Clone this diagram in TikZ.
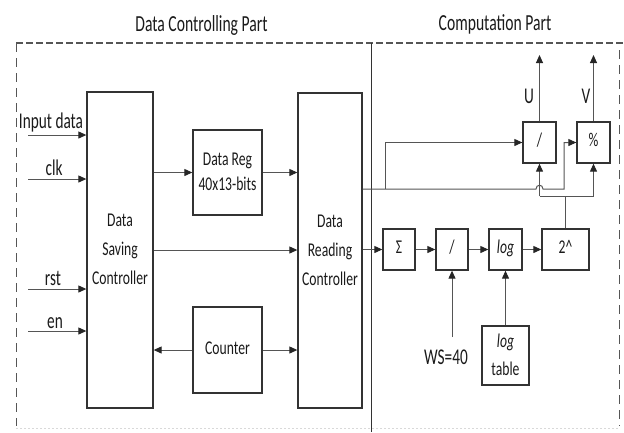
\documentclass[tikz,border=0pt]{standalone}
\usepackage{graphicx}
\usepackage{fontspec}
\setmainfont{Carlito}
\usetikzlibrary{arrows.meta,calc}
\definecolor{boxc}{HTML}{333333}
\definecolor{linec}{HTML}{555555}
\definecolor{txtc}{HTML}{1A1A1A}
\definecolor{framec}{HTML}{555555}
\newcommand{\bt}[2]{\scalebox{0.7}[1]{\fontsize{19.5}{20}\selectfont\def\arraystretch{#1}\begin{tabular}{@{}c@{}}#2\end{tabular}}}
\newcommand{\lt}[1]{\scalebox{0.68}[1]{\fontsize{22.5}{24}\selectfont #1}}
\newcommand{\ttl}[1]{\scalebox{0.68}[1]{\fontsize{23}{25}\selectfont #1}}
\tikzset{
  box/.style={draw=boxc, line width=1.3pt, inner sep=0pt, text=txtc},
  lbl/.style={inner sep=0pt, anchor=base, text=txtc},
  wire/.style={draw=linec, line width=1pt},
  conn/.style={wire, -{Triangle[length=8pt,width=7pt,color=black!85,fill=black!85]}},
}
\begin{document}
\begin{tikzpicture}[x=1pt,y=-1pt]
\useasboundingbox (0,0) rectangle (624,432);
% frame
\draw[framec, line width=1.6pt, dash pattern=on 6.5pt off 3.5pt] (16,43) -- (624,43);
\draw[framec, line width=1pt, dash pattern=on 9pt off 6pt] (16,43) -- (16,426);
\draw[framec, line width=1pt, dash pattern=on 9pt off 6pt] (619,50) -- (619,426);
\draw[gray!30, line width=0.8pt, dash pattern=on 2pt off 2pt] (16,428) -- (619,428);
\draw[boxc, line width=1pt] (371,43) -- (371,432);
% titles
\node[lbl] (t1) at (201.5,31) {\ttl{Data Controlling Part}};
\node[lbl] (t2) at (495,30) {\ttl{Computation Part}};
% boxes
\node[box, minimum width=66pt, minimum height=316pt] (sav) at (120,250) {\bt{1.45}{Data\\Saving\\Controller}};
\node[box, minimum width=69pt, minimum height=85pt] (reg) at (227.5,172.5) {\bt{1.25}{Data Reg\\40x13-bits}};
\node[box, minimum width=69pt, minimum height=86pt] (cnt) at (227.5,350) {\bt{1}{Counter}};
\node[box, minimum width=64pt, minimum height=315pt] (read) at (330,250.5) {\bt{1.45}{Data\\Reading\\Controller}};
\node[box, minimum width=32pt, minimum height=41pt] (sig) at (399,249.5) {\bt{1}{Σ}};
\node[box, minimum width=32pt, minimum height=41pt] (dv) at (452,249.5) {\bt{1}{/}};
\node[box, minimum width=33pt, minimum height=41pt] (lg) at (505.5,249.5) {\bt{1}{\itshape log}};
\node[box, minimum width=47pt, minimum height=41pt] (pw) at (565.5,249.5) {\bt{1}{2\textasciicircum}};
\node[box, minimum width=47pt, minimum height=59pt] (lt) at (505.5,355.5) {\bt{1.4}{\itshape log\\table}};
\node[box, minimum width=33pt, minimum height=41pt] (du) at (539.5,142.5) {\bt{1}{/}};
\node[box, minimum width=33pt, minimum height=41pt] (md) at (593.5,142.5) {\bt{1}{\%}};
% labels
\node[lbl] (lin) at (51,128) {\lt{Input data}};
\node[lbl] (lclk) at (54,175) {\lt{clk}};
\node[lbl] (lrst) at (53,285) {\lt{rst}};
\node[lbl] (len) at (55,328) {\lt{en}};
\node[lbl] (lu) at (529,103) {\lt{U}};
\node[lbl] (lv) at (586,103) {\lt{V}};
\node[lbl] (lws) at (446,364) {\lt{WS=40}};
% coordinates
\coordinate (iin) at (28,135);
\coordinate (iclk) at (28,179);
\coordinate (irst) at (28,289);
\coordinate (ien) at (28,331);
\coordinate (wst) at (452,337);
\coordinate (j1) at (385,189);
\coordinate (j2) at (564,189);
\coordinate (h) at (0,196);
\coordinate (uo) at (0,55);
% inputs
\draw[conn] (iin) -- (iin -| sav.west);
\draw[conn] (iclk) -- (iclk -| sav.west);
\draw[conn] (irst) -- (irst -| sav.west);
\draw[conn] (ien) -- (ien -| sav.west);
% left part
\draw[conn] (reg.west -| sav.east) -- (reg.west);
\draw[conn] (reg.east) -- (reg.east -| read.west);
\draw[conn] (sav.east) -- (sav.east -| read.west);
\draw[conn] (cnt.west) -- (cnt.west -| sav.east);
\draw[conn] (cnt.east) -- (cnt.east -| read.west);
% computation chain
\draw[conn] (read.east |- sig.west) -- (sig.west);
\draw[conn] (sig.east) -- (dv.west);
\draw[conn] (dv.east) -- (lg.west);
\draw[conn] (lg.east) -- (pw.west);
\draw[conn] (wst) -- (dv.south);
\draw[conn] (lt.north) -- (lg.south);
% outputs of reading controller
\draw[conn] (read.east |- j1) -- ($(du.south |- j1)+(-3.5,0)$) .. controls ($(du.south |- j1)+(-3.5,-5)$) and ($(du.south |- j1)+(3.5,-5)$) .. ($(du.south |- j1)+(3.5,0)$) -- (j2) -- (j2 |- md.west) -- (md.west);
\draw[conn] (j1) -- (j1 |- du.west) -- (du.west);
% 2^ feedback
\draw[wire] (pw.north) -- (pw.north |- h);
\draw[wire] (du.south |- h) -- (md.south |- h);
\draw[conn] (du.south |- h) -- (du.south);
\draw[conn] (md.south |- h) -- (md.south);
% U, V
\draw[conn] (du.north) -- (du.north |- uo);
\draw[conn] (md.north) -- (md.north |- uo);
\end{tikzpicture}
\end{document}
